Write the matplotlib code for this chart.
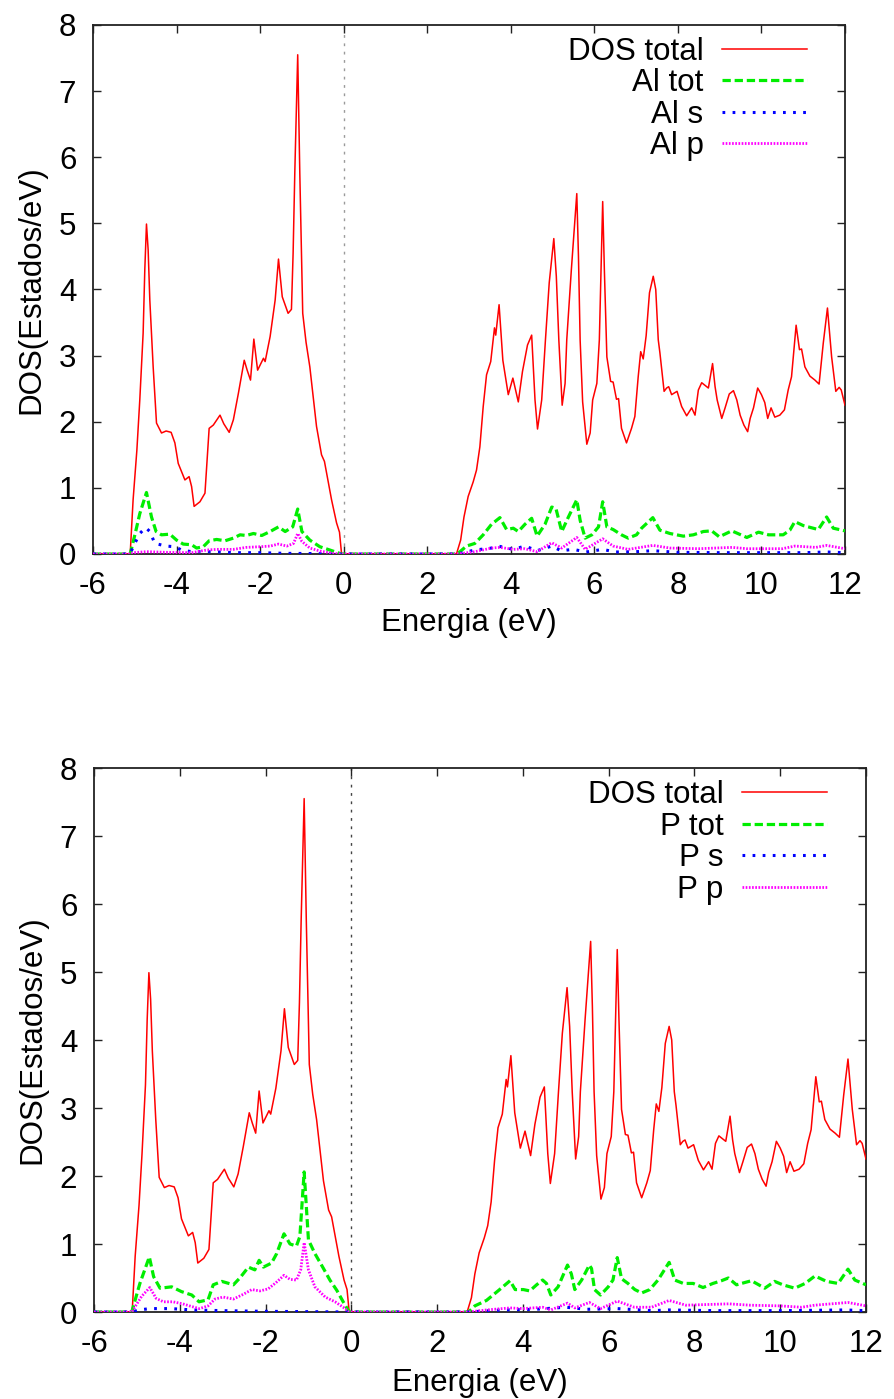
import matplotlib
matplotlib.use("Agg")
import matplotlib.pyplot as plt
import numpy as np

plt.rcParams['font.family'] = ['Liberation Sans', 'DejaVu Sans']
plt.rcParams['axes.unicode_minus'] = False

# ---------------- data ----------------
dos_E = [-6.00, -5.11, -5.04, -4.95, -4.88, -4.80, -4.76, -4.72, -4.68, -4.64, -4.56, -4.48,
         -4.36, -4.25, -4.13, -4.04, -3.96, -3.80, -3.70, -3.64, -3.58, -3.44, -3.32, -3.22,
         -3.12, -2.96, -2.87, -2.74, -2.64, -2.52, -2.38, -2.31, -2.23, -2.15, -2.06, -1.92,
         -1.88, -1.76, -1.64, -1.56, -1.47, -1.33, -1.25, -1.21, -1.17, -1.10, -1.05, -0.98,
         -0.90, -0.81, -0.65, -0.53, -0.46, -0.29, -0.17, -0.10, -0.05,
         2.70, 2.80, 2.88, 2.98, 3.10, 3.18, 3.26, 3.34, 3.42, 3.52, 3.61, 3.64, 3.72, 3.81,
         3.94, 4.05, 4.18, 4.28, 4.40, 4.50, 4.58, 4.64, 4.74, 4.83, 4.92, 5.03, 5.09, 5.15,
         5.23, 5.30, 5.34, 5.45, 5.58, 5.62, 5.66, 5.72, 5.82, 5.90, 5.96, 6.06, 6.12, 6.20,
         6.24, 6.30, 6.39, 6.45, 6.53, 6.58, 6.65, 6.77, 6.89, 6.97, 7.05, 7.11, 7.17, 7.24,
         7.32, 7.41, 7.47, 7.53, 7.57, 7.67, 7.73, 7.78, 7.85, 7.93, 7.98, 8.09, 8.21, 8.33,
         8.41, 8.49, 8.57, 8.73, 8.83, 8.89, 8.94, 9.05, 9.13, 9.23, 9.33, 9.41, 9.49, 9.58,
         9.67, 9.73, 9.81, 9.91, 10.00, 10.08, 10.15, 10.23, 10.32, 10.44, 10.55, 10.64, 10.72,
         10.83, 10.91, 10.96, 11.04, 11.16, 11.28, 11.38, 11.48, 11.58, 11.68, 11.78, 11.86,
         11.91, 12.00]
dos_total = [0.00, 0.00, 0.82, 1.57, 2.33, 3.34, 4.30, 4.99, 4.60, 3.84, 2.83, 1.98,
             1.83, 1.86, 1.84, 1.68, 1.37, 1.12, 1.17, 1.02, 0.72, 0.79, 0.92, 1.90,
             1.95, 2.10, 1.97, 1.84, 2.03, 2.43, 2.93, 2.78, 2.63, 3.25, 2.78, 2.96,
             2.91, 3.29, 3.84, 4.46, 3.89, 3.64, 3.70, 4.55, 5.76, 7.55, 5.76, 3.64,
             3.20, 2.83, 1.93, 1.50, 1.40, 0.82, 0.47, 0.33, 0.00,
             0.00, 0.21, 0.56, 0.87, 1.09, 1.27, 1.62, 2.23, 2.71, 2.91, 3.42, 3.31, 3.77, 2.93,
             2.41, 2.66, 2.30, 2.76, 3.16, 3.31, 2.33, 1.89, 2.33, 3.24, 4.10, 4.77, 4.20, 3.24,
             2.25, 2.58, 3.24, 4.30, 5.45, 4.50, 3.24, 2.30, 1.66, 1.83, 2.33, 2.58, 3.24, 5.33,
             4.30, 2.98, 2.61, 2.60, 2.34, 2.35, 1.90, 1.68, 1.90, 2.08, 2.68, 3.06, 2.95, 3.30,
             3.95, 4.20, 4.00, 3.24, 3.04, 2.46, 2.51, 2.53, 2.41, 2.44, 2.46, 2.23, 2.09, 2.21,
             2.10, 2.48, 2.59, 2.51, 2.88, 2.53, 2.33, 2.05, 2.21, 2.42, 2.47, 2.33, 2.10, 1.95,
             1.85, 2.05, 2.21, 2.51, 2.41, 2.29, 2.05, 2.21, 2.07, 2.10, 2.18, 2.48, 2.68,
             3.46, 3.09, 3.10, 2.83, 2.69, 2.63, 2.57, 3.19, 3.72, 2.98, 2.46, 2.52,
             2.48, 2.25]

al_tot_E = [-6.0, -5.11, -4.99, -4.88, -4.72, -4.60, -4.49, -4.36, -4.16, -4.00, -3.84, -3.64,
            -3.52, -3.36, -3.22, -3.04, -2.84, -2.64, -2.48, -2.33, -2.16, -1.96, -1.76, -1.56,
            -1.40, -1.22, -1.10, -1.00, -0.81, -0.57, -0.33, -0.05,
            2.72, 2.94, 3.14, 3.34, 3.54, 3.74, 3.90, 4.06, 4.18, 4.34, 4.50, 4.63, 4.82, 4.98,
            5.08, 5.22, 5.38, 5.58, 5.66, 5.78, 5.94, 6.10, 6.20, 6.30, 6.45, 6.65, 6.81, 7.01,
            7.13, 7.40, 7.57, 7.81, 8.13, 8.37, 8.61, 8.81, 8.99, 9.29, 9.65, 9.93, 10.17, 10.52,
            10.68, 10.80, 11.00, 11.36, 11.56, 11.72, 12.0]
al_tot = [0.0, 0.0, 0.31, 0.61, 0.93, 0.56, 0.34, 0.29, 0.30, 0.21, 0.15, 0.14,
          0.09, 0.11, 0.20, 0.22, 0.20, 0.24, 0.29, 0.28, 0.31, 0.28, 0.34, 0.41,
          0.34, 0.41, 0.68, 0.34, 0.21, 0.11, 0.06, 0.0,
          0.0, 0.12, 0.16, 0.29, 0.45, 0.55, 0.37, 0.39, 0.34, 0.45, 0.54, 0.27, 0.45, 0.71,
          0.69, 0.34, 0.56, 0.82, 0.51, 0.24, 0.29, 0.41, 0.79, 0.41, 0.37, 0.29, 0.24, 0.29,
          0.39, 0.55, 0.36, 0.31, 0.27, 0.29, 0.34, 0.35, 0.26, 0.35, 0.25, 0.33, 0.29, 0.29,
          0.36, 0.49, 0.43, 0.37, 0.56, 0.39, 0.35]

al_s_E = [-6.0, -5.11, -5.04, -4.88, -4.74, -4.64, -4.52, -4.25, -4.04, -3.88, -3.64, -3.28,
          -2.96, -2.64, -2.0, -1.4, -0.3, -0.05,
          2.72, 3.14, 3.54, 3.70, 4.06, 4.34, 4.63, 4.98, 5.20, 5.50, 5.80, 6.20, 6.50, 7.00,
          7.40, 8.0, 9.0, 10.0, 11.0, 11.56, 12.0]
al_s = [0.0, 0.0, 0.11, 0.31, 0.40, 0.34, 0.16, 0.12, 0.11, 0.06, 0.035, 0.035,
        0.03, 0.02, 0.02, 0.01, 0.005, 0.0,
        0.0, 0.06, 0.09, 0.12, 0.07, 0.12, 0.05, 0.12, 0.05, 0.07, 0.03, 0.07, 0.03, 0.035,
        0.05, 0.025, 0.02, 0.02, 0.02, 0.03, 0.02]

al_p_E = [-6.0, -5.11, -5.04, -4.72, -4.25, -3.64, -3.28, -3.04, -2.64, -2.33, -2.00, -1.76,
          -1.56, -1.36, -1.20, -1.10, -1.00, -0.81, -0.57, -0.25, -0.05,
          2.72, 3.14, 3.54, 3.74, 4.06, 4.34, 4.63, 4.98, 5.22, 5.58, 5.78, 6.20, 6.45, 6.81,
          7.40, 7.81, 8.5, 9.3, 9.65, 10.5, 10.8, 11.3, 11.56, 12.0]
al_p = [0.0, 0.0, 0.02, 0.035, 0.025, 0.02, 0.06, 0.07, 0.07, 0.10, 0.11, 0.12,
        0.15, 0.12, 0.16, 0.31, 0.19, 0.09, 0.045, 0.01, 0.0,
        0.0, 0.035, 0.09, 0.10, 0.07, 0.08, 0.035, 0.17, 0.09, 0.25, 0.07, 0.23, 0.12, 0.07,
        0.13, 0.09, 0.08, 0.10, 0.08, 0.08, 0.12, 0.10, 0.13, 0.08]

p_tot_E = [-6.0, -5.12, -4.93, -4.71, -4.61, -4.46, -4.19, -3.96, -3.72, -3.55, -3.34, -3.22,
           -3.02, -2.91, -2.75, -2.60, -2.40, -2.25, -2.15, -2.05, -1.86, -1.74, -1.57, -1.43,
           -1.28, -1.20, -1.10, -1.00, -0.85, -0.65, -0.50, -0.34, -0.19, -0.05,
           2.73, 2.88, 3.15, 3.42, 3.70, 3.82, 4.01, 4.16, 4.32, 4.46, 4.55, 4.65, 4.82, 5.04,
           5.13, 5.21, 5.37, 5.55, 5.60, 5.67, 5.81, 5.99, 6.10, 6.20, 6.30, 6.45, 6.61, 6.77,
           6.96, 7.15, 7.41, 7.54, 7.74, 7.97, 8.20, 8.43, 8.63, 8.79, 8.98, 9.33, 9.64, 9.87,
           10.06, 10.34, 10.58, 10.81, 11.08, 11.35, 11.58, 11.74, 12.0]
p_tot = [0.0, 0.0, 0.42, 0.81, 0.52, 0.35, 0.37, 0.30, 0.25, 0.15, 0.18, 0.40,
         0.45, 0.43, 0.40, 0.50, 0.66, 0.62, 0.76, 0.66, 0.72, 0.86, 1.15, 1.00,
         0.97, 1.11, 2.06, 1.06, 0.86, 0.64, 0.47, 0.32, 0.15, 0.0,
         0.0, 0.09, 0.17, 0.31, 0.46, 0.33, 0.33, 0.31, 0.40, 0.47, 0.42, 0.25, 0.37, 0.69,
         0.56, 0.33, 0.47, 0.69, 0.64, 0.33, 0.25, 0.37, 0.47, 0.80, 0.49, 0.42, 0.33, 0.28,
         0.33, 0.47, 0.73, 0.47, 0.42, 0.42, 0.36, 0.42, 0.46, 0.50, 0.40, 0.46, 0.35, 0.45,
         0.40, 0.35, 0.42, 0.53, 0.45, 0.42, 0.63, 0.47, 0.40]

p_s_E = [-6.0, -5.12, -4.95, -4.70, -4.20, -3.70, -3.00, -2.00, -1.00, -0.05,
         2.73, 3.5, 4.3, 5.0, 5.5, 6.2, 7.0, 7.4, 8.5, 10.0, 11.5, 12.0]
p_s = [0.0, 0.0, 0.03, 0.05, 0.05, 0.03, 0.02, 0.01, 0.005, 0.0,
       0.0, 0.03, 0.04, 0.07, 0.04, 0.05, 0.02, 0.03, 0.02, 0.02, 0.03, 0.02]

p_p_E = [-6.0, -5.12, -4.89, -4.70, -4.55, -4.38, -4.16, -3.93, -3.72, -3.54, -3.34, -3.18,
         -2.99, -2.75, -2.52, -2.32, -2.13, -1.94, -1.76, -1.57, -1.43, -1.28, -1.18, -1.10,
         -1.00, -0.85, -0.61, -0.38, -0.19, -0.05,
         2.73, 3.15, 3.7, 4.0, 4.46, 4.65, 5.04, 5.21, 5.55, 5.81, 6.20, 6.6, 7.0, 7.41, 7.8,
         8.8, 9.3, 10.0, 10.5, 10.8, 11.58, 12.0]
p_p = [0.0, 0.0, 0.23, 0.36, 0.20, 0.15, 0.15, 0.12, 0.08, 0.05, 0.09, 0.19,
       0.22, 0.19, 0.26, 0.33, 0.31, 0.34, 0.43, 0.54, 0.48, 0.47, 0.62, 1.02,
       0.62, 0.37, 0.22, 0.15, 0.07, 0.0,
       0.0, 0.03, 0.06, 0.05, 0.07, 0.03, 0.13, 0.06, 0.14, 0.05, 0.16, 0.07, 0.07, 0.17, 0.10,
       0.12, 0.10, 0.09, 0.07, 0.10, 0.14, 0.09]

x_ticks = [-6, -4, -2, 0, 2, 4, 6, 8, 10, 12]
y_ticks = [0, 1, 2, 3, 4, 5, 6, 7, 8]
fermi_level = 0.0

top_labels = ['DOS total', 'Al tot', 'Al s', 'Al p']
bot_labels = ['DOS total', 'P tot', 'P s', 'P p']

# ---------------- styles ----------------
FS = 22.5
styles = [
    dict(color='#ff0000', lw=1.1, ls='-'),
    dict(color='#00ee00', lw=2.3, ls=(0, (2.6, 1.2))),
    dict(color='#0000ff', lw=2.2, ls=(0, (0.9, 2.4))),
    dict(color='#ff00ff', lw=2.0, ls=(0, (0.6, 0.55))),
]

W, H = 894, 1399
fig = plt.figure(figsize=(W / 100, H / 100), dpi=100)

def px_axes(l, t, r, b):
    return fig.add_axes([l / W, 1 - b / H, (r - l) / W, (b - t) / H])

ax1 = px_axes(93, 25, 845, 554)
ax2 = px_axes(94, 768, 866, 1312)

panels = [
    (ax1, [(dos_E, dos_total), (al_tot_E, al_tot), (al_s_E, al_s), (al_p_E, al_p)], top_labels, '#9a9a9a', 5),
    (ax2, [(dos_E, dos_total), (p_tot_E, p_tot), (p_s_E, p_s), (p_p_E, p_p)], bot_labels, '#444444', 7),
]

for ax, series, labels, fcol, xlpad in panels:
    ax.axvline(fermi_level, color=fcol, lw=1.0, ls=(0, (2, 4)), zorder=1)
    for (xs, ys), lab, st in zip(series, labels, styles):
        ax.plot(xs, ys, label=lab, zorder=3, **st)
    ax.set_xlim(-6, 12)
    ax.set_ylim(0, 8)
    ax.set_xticks(x_ticks)
    ax.set_yticks(y_ticks)
    ax.tick_params(direction='in', top=True, right=True, length=6, width=1.0,
                   labelsize=FS, color='#222222')
    ax.tick_params(axis='x', pad=12)
    ax.tick_params(axis='y', pad=12)
    for s in ax.spines.values():
        s.set_linewidth(1.3)
        s.set_color('#222222')
    ax.set_xlabel('Energia (eV)', fontsize=FS, labelpad=xlpad)
    ax.set_ylabel('DOS(Estados/eV)', fontsize=FS, labelpad=9)
    leg = ax.legend(loc='upper right', bbox_to_anchor=(0.949, 0.978), markerfirst=False,
                    frameon=False, fontsize=FS, handlelength=2.7, handletextpad=0.6,
                    labelspacing=0.05, borderpad=0, borderaxespad=0)

fig.savefig('out.png', dpi=100)
